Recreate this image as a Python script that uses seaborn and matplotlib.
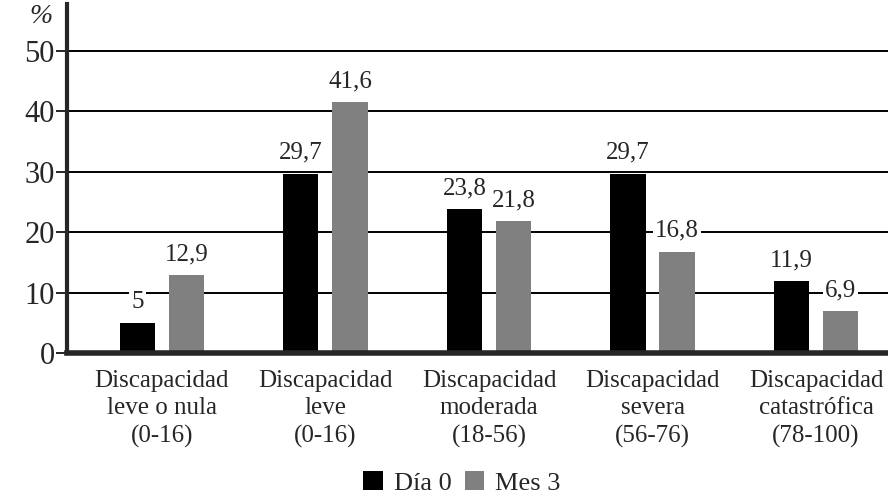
import matplotlib
matplotlib.use("Agg")
import matplotlib.pyplot as plt
import seaborn as sns
import pandas as pd
from matplotlib.patches import Patch

categories = ["Discapacidad\nleve o nula\n(0-16)",
              "Discapacidad\nleve\n(0-16)",
              "Discapacidad\nmoderada\n(18-56)",
              "Discapacidad\nsevera\n(56-76)",
              "Discapacidad\ncatastrófica\n(78-100)"]
series_names = ["Día 0", "Mes 3"]
dia0 = [5, 29.7, 23.8, 29.7, 11.9]
mes3 = [12.9, 41.6, 21.8, 16.8, 6.9]
yticks = [0, 10, 20, 30, 40, 50]

df = pd.DataFrame({
    "cat": categories * 2,
    "serie": [series_names[0]] * 5 + [series_names[1]] * 5,
    "valor": dia0 + mes3,
})

sns.set_style("white")
plt.rcParams["font.family"] = ["Liberation Serif", "DejaVu Serif"]

fig = plt.figure(figsize=(8.88, 4.94), dpi=100)
ax = fig.add_axes([0.0755, 0.2854, 0.9245, 0.7066])

colors = {"Día 0": "#000000", "Mes 3": "#808080"}
sns.barplot(data=df, x="cat", y="valor", hue="serie", palette=colors,
            width=0.6, gap=0.285, ax=ax, legend=False, zorder=3,
            edgecolor="none")

ax.set_ylim(0, 57.8)
ax.set_xlim(-0.58, 4.44)
ax.set_yticks(yticks)
ax.set_yticklabels([str(t) for t in yticks], fontsize=22)
for t in yticks[1:]:
    ax.axhline(t, color="black", lw=1.4, zorder=1)

ax.set_xlabel("")
ax.set_ylabel("")
ax.tick_params(axis="x", length=0, labelsize=18, pad=12)
ax.tick_params(axis="y", length=8, width=1.4, direction="out", pad=1, left=True)
for s in ["top", "right"]:
    ax.spines[s].set_visible(False)
ax.spines["left"].set_linewidth(3)
ax.spines["bottom"].set_linewidth(4)
ax.spines["bottom"].set_zorder(5)

for lab in ax.get_xticklabels():
    lab.set_linespacing(1.32)

# etiquetas de valor con fondo blanco
for cont, vals in zip(ax.containers, [dia0, mes3]):
    for bar, v in zip(cont, vals):
        x = bar.get_x() + bar.get_width() / 2
        ax.annotate(f"{v:g}".replace(".", ","), (x, v), xytext=(0, 7),
                    textcoords="offset points", ha="center", va="bottom",
                    fontsize=18, zorder=4,
                    bbox=dict(facecolor="white", edgecolor="none", pad=1.5))

ax.text(-0.032, 1.0, "%", transform=ax.transAxes, fontsize=20,
        style="italic", ha="center", va="top")

handles = [Patch(facecolor=colors[n], edgecolor="none") for n in series_names]
fig.legend(handles, series_names, loc="lower center", ncol=2, frameon=False,
           fontsize=19, bbox_to_anchor=(0.52, -0.05), handlelength=0.75,
           handleheight=0.7, columnspacing=0.5, handletextpad=0.4)

fig.savefig("out.png", dpi=100)
